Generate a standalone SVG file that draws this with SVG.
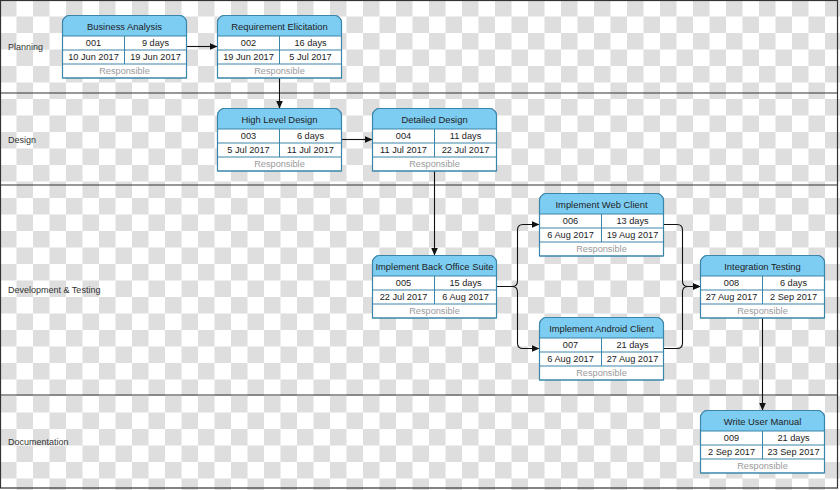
<svg xmlns="http://www.w3.org/2000/svg" width="840" height="490" viewBox="0 0 840 490">
<style>
text{font-family:"Liberation Sans",Arial,sans-serif;font-size:9.2px;fill:#222;text-anchor:middle;dominant-baseline:central}
.ttl{font-size:9.4px}
.lane{text-anchor:start;fill:#333;font-size:9px}
.resp{fill:#9a9a9a}
.hdr{fill:#7dcdf3;stroke:none}
.box{fill:#fff;stroke:#3a85aa;stroke-width:1}
.out{fill:none;stroke:#3a85aa;stroke-width:1.2}
.grid{fill:none;stroke:#3a85aa;stroke-width:1}
.sep{stroke:#333;stroke-width:1.2;fill:none}
.con{fill:none;stroke:#111;stroke-width:1.1}
</style>
<defs>
<pattern id="chk" width="33" height="33" patternUnits="userSpaceOnUse">
<rect width="33" height="33" fill="#fff"/>
<rect width="16.5" height="16.5" fill="#dedede"/>
<rect x="16.5" y="16.5" width="16.5" height="16.5" fill="#dedede"/>
</pattern>
<marker id="arr" markerUnits="userSpaceOnUse" markerWidth="9" markerHeight="8" refX="8" refY="3.5" orient="auto">
<path d="M0,0 L8,3.5 L0,7 z" fill="#111"/>
</marker>
<g id="frame">
<path class="box" d="M0,62.5 V7 A7,7 0 0 1 7,0 H117 A7,7 0 0 1 124,7 V62.5 Z"/>
<path class="hdr" d="M0.5,20.5 V7 A6.5,6.5 0 0 1 7,0.5 H117 A6.5,6.5 0 0 1 123.5,7 V20.5 Z"/>
<path class="grid" d="M0,20.5H124 M0,34.5H124 M0,48.5H124 M62,20.5V48.5"/>
<path class="out" d="M0,62.5 V7 A7,7 0 0 1 7,0 H117 A7,7 0 0 1 124,7 V62.5 Z"/>
</g>
</defs>
<rect width="840" height="490" fill="url(#chk)"/>
<g id="lanes">
<rect class="sep" x="0.5" y="0.5" width="837" height="487.5"/>
<path class="sep" d="M0,93H838 M0,185H838 M0,395H838"/>
<text class="lane" x="8" y="46.5">Planning</text>
<text class="lane" x="8" y="139.5">Design</text>
<text class="lane" x="8" y="290">Development &amp; Testing</text>
<text class="lane" x="8" y="442">Documentation</text>
</g>
<g id="connectors">
<path class="con" marker-end="url(#arr)" d="M186.5,46.5 H217.5"/>
<path class="con" marker-end="url(#arr)" d="M279.5,78 V108.5"/>
<path class="con" marker-end="url(#arr)" d="M341.5,139.5 H372.5"/>
<path class="con" marker-end="url(#arr)" d="M434.5,171 V255.5"/>
<path class="con" marker-end="url(#arr)" d="M496.5,286.5 H512 Q517.5,286.5 517.5,281 V230 Q517.5,224.5 523,224.5 H539.5"/>
<path class="con" marker-end="url(#arr)" d="M496.5,286.5 H512 Q517.5,286.5 517.5,292 V343 Q517.5,348.5 523,348.5 H539.5"/>
<path class="con" marker-end="url(#arr)" d="M663.5,224.5 H677 Q682.5,224.5 682.5,230 V281 Q682.5,286.5 688,286.5 H700.5"/>
<path class="con" marker-end="url(#arr)" d="M663.5,348.5 H677 Q682.5,348.5 682.5,343 V292 Q682.5,286.5 688,286.5 H700.5"/>
<path class="con" marker-end="url(#arr)" d="M762.5,318 V410.5"/>
</g>
<g id="n001" transform="translate(62.5,15.5)"><use href="#frame"/>
<text class="ttl" x="62" y="11">Business Analysis</text><text x="31" y="27.5">001</text><text x="93" y="27.5">9 days</text>
<text x="31" y="41.5">10 Jun 2017</text><text x="93" y="41.5">19 Jun 2017</text><text class="resp" x="62" y="55.5">Responsible</text></g>
<g id="n002" transform="translate(217.5,15.5)"><use href="#frame"/>
<text class="ttl" x="62" y="11">Requirement Elicitation</text><text x="31" y="27.5">002</text><text x="93" y="27.5">16 days</text>
<text x="31" y="41.5">19 Jun 2017</text><text x="93" y="41.5">5 Jul 2017</text><text class="resp" x="62" y="55.5">Responsible</text></g>
<g id="n003" transform="translate(217.5,108.5)"><use href="#frame"/>
<text class="ttl" x="62" y="11">High Level Design</text><text x="31" y="27.5">003</text><text x="93" y="27.5">6 days</text>
<text x="31" y="41.5">5 Jul 2017</text><text x="93" y="41.5">11 Jul 2017</text><text class="resp" x="62" y="55.5">Responsible</text></g>
<g id="n004" transform="translate(372.5,108.5)"><use href="#frame"/>
<text class="ttl" x="62" y="11">Detailed Design</text><text x="31" y="27.5">004</text><text x="93" y="27.5">11 days</text>
<text x="31" y="41.5">11 Jul 2017</text><text x="93" y="41.5">22 Jul 2017</text><text class="resp" x="62" y="55.5">Responsible</text></g>
<g id="n005" transform="translate(372.5,255.5)"><use href="#frame"/>
<text class="ttl" x="62" y="11">Implement Back Office Suite</text><text x="31" y="27.5">005</text><text x="93" y="27.5">15 days</text>
<text x="31" y="41.5">22 Jul 2017</text><text x="93" y="41.5">6 Aug 2017</text><text class="resp" x="62" y="55.5">Responsible</text></g>
<g id="n006" transform="translate(539.5,193.5)"><use href="#frame"/>
<text class="ttl" x="62" y="11">Implement Web Client</text><text x="31" y="27.5">006</text><text x="93" y="27.5">13 days</text>
<text x="31" y="41.5">6 Aug 2017</text><text x="93" y="41.5">19 Aug 2017</text><text class="resp" x="62" y="55.5">Responsible</text></g>
<g id="n007" transform="translate(539.5,317.5)"><use href="#frame"/>
<text class="ttl" x="62" y="11">Implement Android Client</text><text x="31" y="27.5">007</text><text x="93" y="27.5">21 days</text>
<text x="31" y="41.5">6 Aug 2017</text><text x="93" y="41.5">27 Aug 2017</text><text class="resp" x="62" y="55.5">Responsible</text></g>
<g id="n008" transform="translate(700.5,255.5)"><use href="#frame"/>
<text class="ttl" x="62" y="11">Integration Testing</text><text x="31" y="27.5">008</text><text x="93" y="27.5">6 days</text>
<text x="31" y="41.5">27 Aug 2017</text><text x="93" y="41.5">2 Sep 2017</text><text class="resp" x="62" y="55.5">Responsible</text></g>
<g id="n009" transform="translate(700.5,410.5)"><use href="#frame"/>
<text class="ttl" x="62" y="11">Write User Manual</text><text x="31" y="27.5">009</text><text x="93" y="27.5">21 days</text>
<text x="31" y="41.5">2 Sep 2017</text><text x="93" y="41.5">23 Sep 2017</text><text class="resp" x="62" y="55.5">Responsible</text></g>
</svg>
